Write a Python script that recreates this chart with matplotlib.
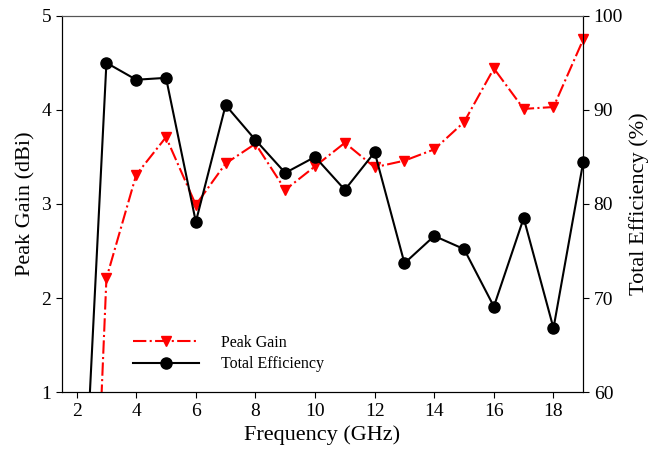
import numpy as np
import matplotlib.pyplot as plt

plt.rcParams['font.family'] = ['Liberation Serif', 'DejaVu Serif']

freq = [2, 3, 4, 5, 6, 7, 8, 9, 10, 11, 12, 13, 14, 15, 16, 17, 18, 19]
peak_gain = [-5.35, 2.21, 3.31, 3.71, 2.99, 3.43, 3.64, 3.15, 3.40, 3.65, 3.39,
             3.46, 3.58, 3.87, 4.44, 4.01, 4.03, 4.75]
total_eff = [31.8, 95.0, 93.2, 93.4, 78.1, 90.5, 86.8, 83.3, 85.0, 81.5, 85.5,
             73.7, 76.6, 75.2, 69.1, 78.5, 66.8, 84.5]

fig, ax = plt.subplots(figsize=(6.51, 4.63), dpi=100)
fig.subplots_adjust(left=0.0948, right=0.896, top=0.966, bottom=0.153)
ax2 = ax.twinx()

# lines clipped to the axes, markers (inside range) drawn unclipped
ax.plot(freq, peak_gain, color='red', linestyle='-.', linewidth=1.5)
ax.plot(freq[1:], peak_gain[1:], color='red', linestyle='none',
        marker='v', markersize=7, clip_on=False, zorder=4)
ax2.plot(freq, total_eff, color='black', linestyle='-', linewidth=1.5)
ax2.plot(freq[1:], total_eff[1:], color='black', linestyle='none',
         marker='o', markersize=8, clip_on=False, zorder=4)

# legend handles
h1, = ax.plot([], [], color='red', linestyle='-.', linewidth=1.5,
              marker='v', markersize=7, label='Peak Gain')
h2, = ax.plot([], [], color='black', linestyle='-', linewidth=1.5,
              marker='o', markersize=8, label='Total Efficiency')

ax.set_xlim(1.5, 19)
ax.set_ylim(1, 5)
ax2.set_ylim(60, 100)
ax.set_xticks(np.arange(2, 19, 2))
ax.set_yticks([1, 2, 3, 4, 5])
ax2.set_yticks([60, 70, 80, 90, 100])

ax.tick_params(labelsize=14, direction='out', length=4)
ax2.tick_params(labelsize=14, direction='out', length=4)
ax.spines['top'].set_color('#555555')
ax2.spines['top'].set_color('#555555')

ax.set_xlabel('Frequency (GHz)', fontsize=16)
ax.set_ylabel('Peak Gain (dBi)', fontsize=16)
ax2.set_ylabel('Total Efficiency (%)', fontsize=16)

ax.legend(handles=[h1, h2], loc='lower left', bbox_to_anchor=(0.11, 0.015),
          frameon=False, fontsize=11.5, handlelength=4.1, handletextpad=1.4,
          labelspacing=0.35)

fig.savefig('out.png', dpi=100)
